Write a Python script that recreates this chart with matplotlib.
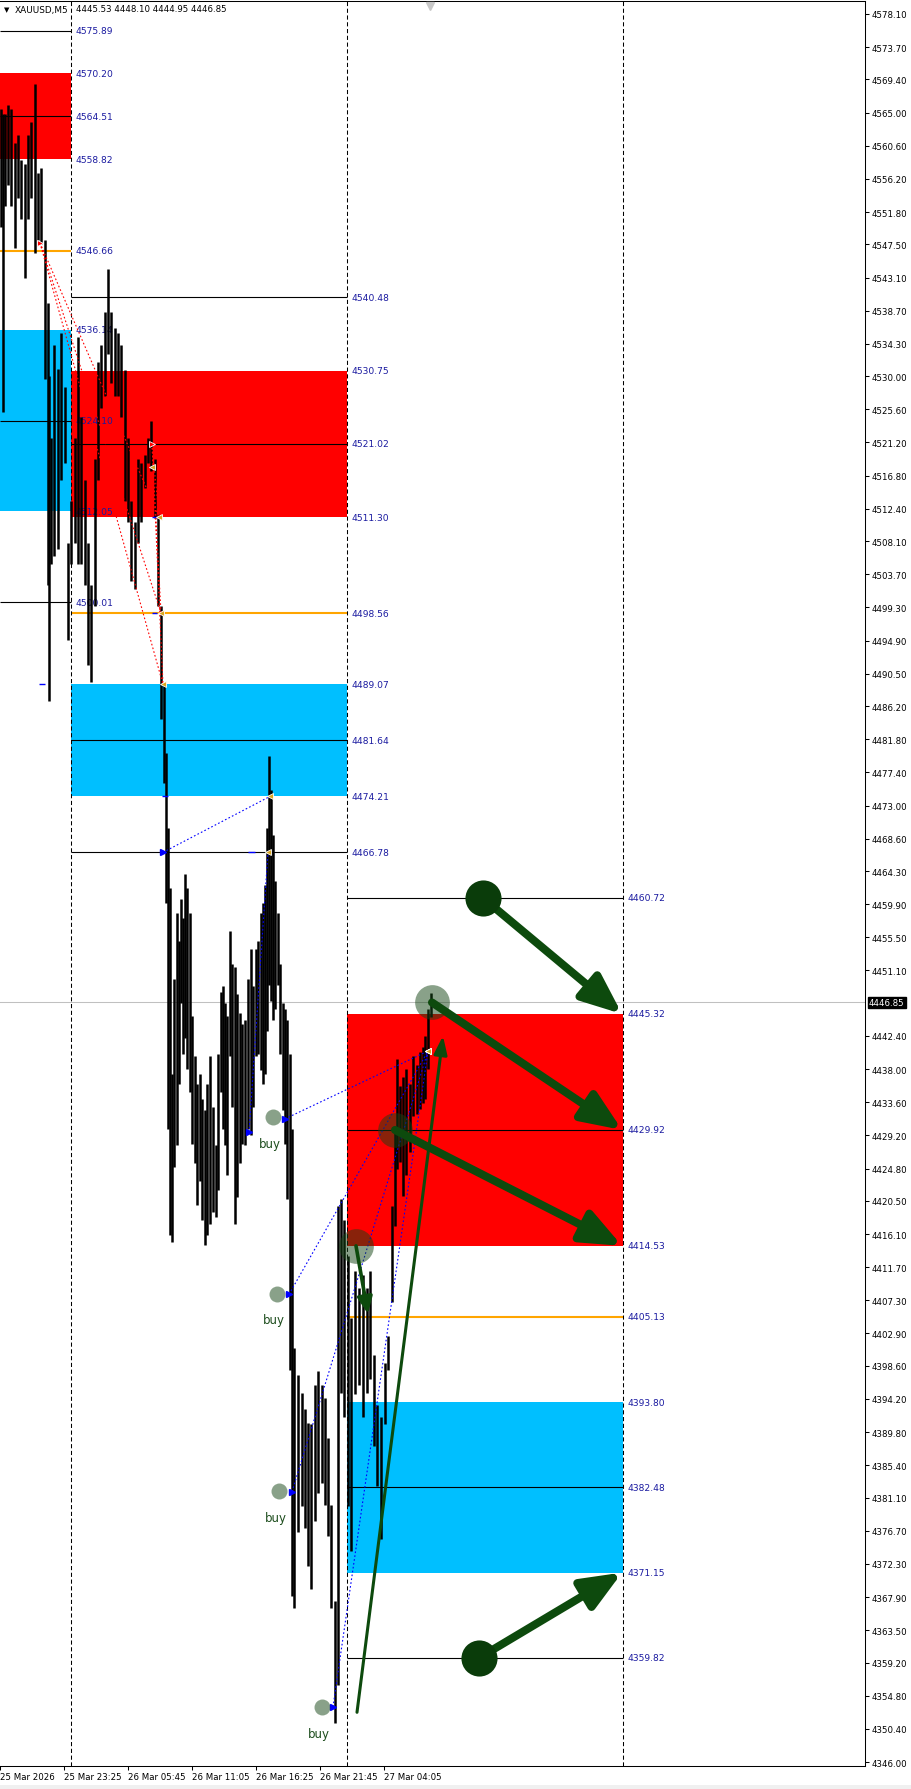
import matplotlib
matplotlib.use("Agg")
import matplotlib.pyplot as plt
from matplotlib.patches import Rectangle, FancyArrowPatch

# ---- price bars (M5, one bar per pixel column) ----
bar_x = [1, 3, 5, 8, 11, 15, 18, 21, 25, 28, 31, 35, 38, 41, 45, 48, 49, 51, 54, 58,
         61, 65, 68, 71, 75, 78, 81, 85, 88, 91, 95, 98, 101, 105, 108, 111, 115, 118, 121, 125,
         128, 131, 135, 138, 141, 145, 148, 151, 155, 158, 161, 164, 166, 168,
         170, 172, 174, 177, 179, 181, 183, 185, 187, 190, 192, 195, 197, 200, 202, 205,
         207, 210, 213, 216, 218, 221, 223, 225, 227, 230, 232, 235, 237, 240, 242, 245,
         248, 251, 253, 256, 258, 261, 263, 265, 267, 269, 271, 273, 275, 278, 280, 283,
         285, 287,
         290, 292, 294, 298, 302, 305, 308, 311, 315, 318, 322, 325, 328, 331, 335, 338, 341, 344, 348, 351,
         355, 359, 363, 367, 370, 374, 377, 381, 385, 388, 392, 395, 397, 400, 403, 406, 410, 413, 417, 420,
         423, 425, 428, 431]
bar_high = [4565.5, 4564.8, 4564.8, 4566.0, 4565.5, 4561.0, 4562.0, 4558.7, 4558.2, 4562.0,
            4563.8, 4568.8, 4557.0, 4557.7, 4548.1, 4539.7, 4530.0, 4521.8, 4534.2, 4531.0,
            4535.7, 4528.6, 4507.9, 4513.4, 4521.8, 4535.2, 4524.6, 4516.2, 4507.9, 4502.3,
            4519.0, 4531.9, 4534.2, 4538.5, 4544.2, 4538.5, 4536.4, 4535.7, 4534.2, 4530.8,
            4521.8, 4513.4, 4510.7, 4519.0, 4518.5, 4519.6, 4521.8, 4524.1, 4519.0, 4511.7,
            4499.5, 4489.0, 4480.0, 4470.0,
            4462.0, 4437.4, 4450.0, 4458.7, 4455.0, 4460.6, 4458.0, 4463.9, 4462.0, 4458.7,
            4445.0, 4439.7, 4436.0, 4437.4, 4434.0, 4432.6, 4436.0, 4439.7, 4433.0, 4427.9,
            4440.0, 4448.3, 4449.0, 4446.8, 4445.0, 4456.3, 4452.0, 4451.6, 4448.0, 4445.5,
            4444.0, 4444.5, 4450.0, 4453.9, 4449.0, 4453.9, 4455.0, 4458.7, 4460.0, 4462.4,
            4470.0, 4479.6, 4475.0, 4469.1, 4463.0, 4458.7, 4452.0, 4446.8, 4446.0, 4444.5,
            4440.0, 4430.0, 4401.0, 4397.4, 4395.0, 4392.9, 4391.0, 4390.9, 4396.0, 4397.9,
            4396.0, 4394.3, 4389.0, 4380.1, 4367.4, 4419.8, 4420.7, 4418.0, 4413.2, 4405.0,
            4411.2, 4409.0, 4410.7, 4409.0, 4411.2, 4400.0, 4393.4, 4391.8, 4399.0, 4402.5,
            4419.8, 4430.0, 4439.4, 4435.8, 4437.0, 4438.0, 4436.0, 4439.7, 4438.5, 4440.3,
            4441.0, 4442.4, 4446.0, 4448.1]
bar_low = [4549.8, 4525.3, 4552.6, 4555.4, 4552.6, 4547.0, 4553.7, 4550.9, 4543.0, 4550.9,
           4553.7, 4546.4, 4548.1, 4547.6, 4529.6, 4502.3, 4486.9, 4505.1, 4506.1, 4507.0,
           4516.2, 4518.5, 4495.0, 4505.1, 4507.9, 4505.1, 4505.1, 4502.3, 4491.7, 4489.4,
           4499.5, 4516.2, 4525.8, 4527.4, 4533.0, 4529.1, 4527.4, 4527.4, 4524.6, 4513.4,
           4510.7, 4502.8, 4501.8, 4507.9, 4510.7, 4515.2, 4518.5, 4517.4, 4511.2, 4499.5,
           4484.5, 4476.0, 4460.0, 4430.0,
           4416.0, 4415.0, 4425.0, 4427.9, 4436.0, 4446.8, 4440.0, 4442.1, 4438.0, 4435.0,
           4428.0, 4425.5, 4420.0, 4423.1, 4418.0, 4414.6, 4416.0, 4417.4, 4419.0, 4418.4,
           4422.0, 4435.0, 4430.0, 4427.9, 4424.0, 4439.7, 4433.0, 4417.4, 4421.0, 4425.5,
           4428.0, 4427.9, 4430.0, 4429.3, 4433.0, 4439.7, 4440.0, 4437.9, 4436.0, 4437.4,
           4443.0, 4449.2, 4447.0, 4444.5, 4446.0, 4449.2, 4440.0, 4432.6, 4428.0, 4420.8,
           4398.0, 4368.0, 4366.4, 4376.5, 4380.0, 4377.1, 4372.0, 4369.0, 4378.0, 4381.7,
           4383.0, 4380.1, 4376.0, 4366.4, 4351.2, 4356.2, 4395.0, 4391.8, 4380.0, 4374.0,
           4394.9, 4396.0, 4391.8, 4395.0, 4396.9, 4388.0, 4382.6, 4375.6, 4390.9, 4398.0,
           4407.1, 4417.2, 4424.7, 4425.7, 4421.2, 4424.0, 4427.0, 4431.8, 4432.0, 4432.7,
           4433.5, 4434.0, 4438.0, 4444.95]

# ---- zone levels, one entry per session block ----
block_start = [0, 71, 347]
block_end = [71, 347, 623]
top_line = [4575.89, 4540.48, 4460.72]
red_top = [4570.20, 4530.75, 4445.32]
red_mid = [4564.51, 4521.02, 4429.92]
red_bot = [4558.82, 4511.30, 4414.53]
orange_line = [4546.66, 4498.56, 4405.13]
cyan_top = [4536.14, 4489.07, 4393.80]
cyan_mid = [4524.10, 4481.64, 4382.48]
cyan_bot = [4512.05, 4474.21, 4371.15]
bottom_line = [4500.01, 4466.78, 4359.82]

# ---- trades ----
sell_open_x = [40, 152]
sell_open_p = [4547.7, 4521.0]
sell_close_x = [159, 161, 163]
sell_close_p = [4511.30, 4498.56, 4489.07]

buy_open_x = [163, 249, 285, 289, 292, 333]
buy_open_p = [4466.78, 4429.6, 4431.4, 4408.1, 4381.9, 4353.3]
buy_close_x = [270, 268, 428, 428, 428, 428]
buy_close_p = [4474.21, 4466.78, 4440.4, 4440.4, 4440.4, 4440.4]

buy_dot_x = [273, 277, 279, 322]
buy_dot_p = [4431.6, 4408.2, 4382.0, 4353.3]

# ---- hand drawn marks ----
dark_dot_x = [483, 479]
dark_dot_p = [4460.72, 4359.82]
soft_dot_x = [432, 395, 356]
soft_dot_p = [4446.85, 4429.92, 4414.53]
big_arrows = [((483, 4460.72), (622, 4445.32)),
              ((479, 4359.82), (622, 4371.15)),
              ((432, 4446.85), (622, 4429.92)),
              ((395, 4429.92), (622, 4414.53))]
thin_arrows = [((356, 4414.53), (368, 4405.5)),
               ((357, 4352.6), (443, 4442.4))]

# ---- axes ----
price_ticks = [4578.10, 4573.70, 4569.40, 4565.00, 4560.60, 4556.20, 4551.80, 4547.50, 4543.10,
               4538.70, 4534.30, 4530.00, 4525.60, 4521.20, 4516.80, 4512.40, 4508.10, 4503.70,
               4499.30, 4494.90, 4490.50, 4486.20, 4481.80, 4477.40, 4473.00, 4468.60, 4464.30,
               4459.90, 4455.50, 4451.10, 4442.40, 4438.00, 4433.60, 4429.20, 4424.80, 4420.50,
               4416.10, 4411.70, 4407.30, 4402.90, 4398.60, 4394.20, 4389.80, 4385.40, 4381.10,
               4376.70, 4372.30, 4367.90, 4363.50, 4359.20, 4354.80, 4350.40, 4346.00]
time_ticks = [0, 64, 128, 192, 256, 320, 384]
time_labels = ['25 Mar 2026', '25 Mar 23:25', '26 Mar 05:45', '26 Mar 11:05',
               '26 Mar 16:25', '26 Mar 21:45', '27 Mar 04:05']
last_price = 4446.85
ohlc_text = '4445.53 4448.10 4444.95 4446.85'

W, H = 912, 1790
fig = plt.figure(figsize=(W / 100, H / 100), dpi=100)
ax = fig.add_axes([0, 23 / H, 865 / W, 1765 / H])
ax.set_xlim(0, 865)
ax.set_ylim(4345.47, 4579.82)

LBL = '#1a1aa0'
for i in range(3):
    x0, x1 = block_start[i], block_end[i]
    ax.add_patch(Rectangle((x0, red_bot[i]), x1 - x0, red_top[i] - red_bot[i],
                           facecolor='#ff0000', lw=0, zorder=0.5))
    ax.add_patch(Rectangle((x0, cyan_bot[i]), x1 - x0, cyan_top[i] - cyan_bot[i],
                           facecolor='#00bfff', lw=0, zorder=0.5))
    ax.hlines([top_line[i], red_mid[i], cyan_mid[i], bottom_line[i]], x0, x1,
              colors='black', lw=0.8, zorder=1)
    ax.hlines(orange_line[i], x0, x1, colors='#ffa500', lw=1.5, zorder=1)
    for v in [top_line[i], red_top[i], red_mid[i], red_bot[i], orange_line[i],
              cyan_top[i], cyan_mid[i], cyan_bot[i], bottom_line[i]]:
        ax.text(x1 + 5, v, f'{v:.2f}', color=LBL, fontsize=6.6,
                va='center', ha='left', zorder=2)

for xv in [71, 347, 623]:
    ax.axvline(xv, color='black', lw=0.75, ls=(0, (4, 2.5)), zorder=1.5)
ax.axhline(last_price, color='#c0c0c0', lw=0.75, zorder=1.2)

# candles
ax.vlines(bar_x, bar_low, bar_high, colors='black', lw=1.8, zorder=3)

# trade history lines
for xo, po in zip(sell_open_x, sell_open_p):
    for xc, pc in zip(sell_close_x, sell_close_p):
        ax.plot([xo, xc], [po, pc], color='#ff0000', lw=0.8, ls=(0, (1.5, 2)), zorder=4)
for xo, po, xc, pc in zip(buy_open_x, buy_open_p, buy_close_x, buy_close_p):
    ax.plot([xo, xc], [po, pc], color='#0000ff', lw=0.8, ls=(0, (1.5, 2)), zorder=4)
ax.plot(buy_open_x, buy_open_p, ls='none', marker='>', ms=4.5, color='#0000ff', zorder=5)
ax.plot(sell_open_x, sell_open_p, ls='none', marker='>', ms=5, color='#ff0000',
        mec='white', mew=0.6, zorder=5)
ax.plot(sell_close_x + [152] + buy_close_x, sell_close_p + [4517.9] + buy_close_p,
        ls='none', marker='<', ms=5, color='#daa520', mec='white', mew=0.6, zorder=5)
ax.hlines([4511.30, 4498.56, 4489.07, 4466.78, 4474.21], [152, 152, 39, 248, 162],
          [157, 157, 45, 255, 168], colors='#0000ff', lw=1.0, zorder=4)

# buy labels
ax.plot(buy_dot_x, buy_dot_p, ls='none', marker='o', ms=11.5, color='#154515',
        alpha=0.5, mew=0, zorder=5)
for xv, pv in zip(buy_dot_x, buy_dot_p):
    ax.annotate('buy', (xv, pv), xytext=(-2, -19), textcoords='offset points',
                ha='center', va='center', color='#1d4d1d', fontsize=8.5, zorder=5)

# hand drawn circles and arrows
ax.plot(soft_dot_x, soft_dot_p, ls='none', marker='o', ms=25, color='#154515',
        alpha=0.5, mew=0, zorder=6)
for a, b in big_arrows:
    ax.add_patch(FancyArrowPatch(a, b, arrowstyle='-|>,head_length=24,head_width=10',
                                 mutation_scale=1, lw=5.8, color='#0d4a0d',
                                 shrinkA=0, shrinkB=0, zorder=7))
ax.add_patch(FancyArrowPatch(*thin_arrows[0], arrowstyle='-|>,head_length=10,head_width=4.5',
                             mutation_scale=1, lw=2.6, color='#0d4a0d',
                             shrinkA=0, shrinkB=0, zorder=7))
ax.add_patch(FancyArrowPatch(*thin_arrows[1], arrowstyle='-|>,head_length=11,head_width=4',
                             mutation_scale=1, lw=2.2, color='#0d4a0d',
                             shrinkA=0, shrinkB=0, zorder=7))
ax.plot(dark_dot_x, dark_dot_p, ls='none', marker='o', ms=26, color='#0a3c0a',
        mew=0, zorder=8)

# shift marker on top
ax.plot([430], [4579.2], marker='v', ms=6, color='#c8c8c8', clip_on=False, zorder=9)

# axes styling
ax.yaxis.tick_right()
ax.set_yticks(price_ticks)
ax.set_yticklabels([f'{v:.2f}' for v in price_ticks])
ax.set_xticks(time_ticks)
ax.set_xticklabels(time_labels, ha='left')
ax.tick_params(axis='y', direction='out', length=3, width=0.75, pad=1.5, labelsize=6.2)
ax.tick_params(axis='x', direction='out', length=3, width=0.75, pad=1.5, labelsize=6.2)
ax.spines['left'].set_visible(False)
for s in ['top', 'right', 'bottom']:
    ax.spines[s].set_linewidth(0.75)

ax.text(869, last_price, f'{last_price:.2f}', color='white', fontsize=6.2, va='center',
        ha='left', clip_on=False, zorder=10,
        bbox=dict(facecolor='black', edgecolor='black', pad=0.8))

fig.text(4 / W, 1 - 10 / H, '\u25bc', fontsize=5, va='center', ha='left')
fig.text(15 / W, 1 - 10 / H, 'XAUUSD,M5', fontsize=6.4, va='center', ha='left')
fig.text(76 / W, 1 - 10 / H, ohlc_text, fontsize=6.2, va='center', ha='left')
fig.patches.append(Rectangle((0, 0), 1, 4 / H, transform=fig.transFigure,
                             facecolor='#f0f0f0', lw=0))

fig.savefig('out.png', dpi=100)
